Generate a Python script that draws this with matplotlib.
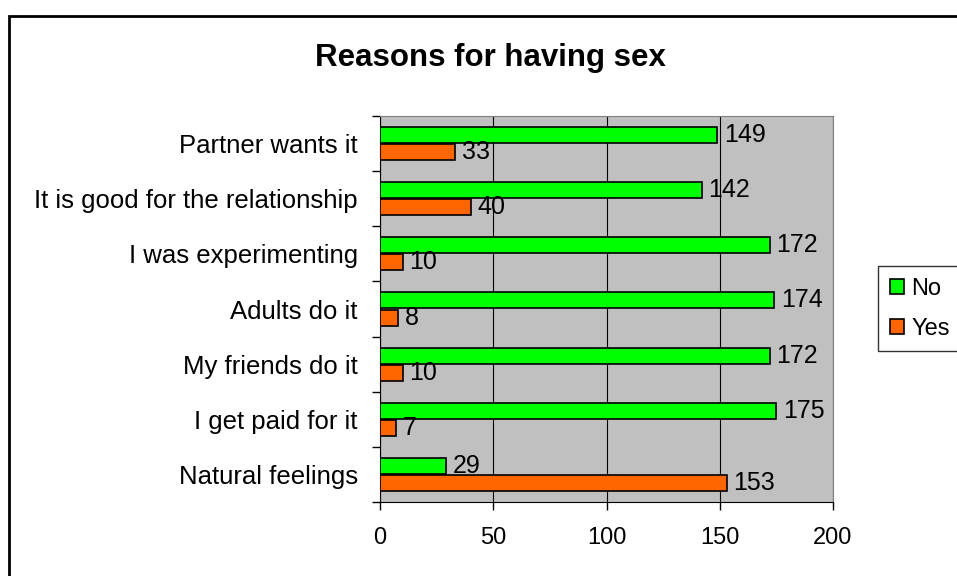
import matplotlib.pyplot as plt
from matplotlib.patches import Rectangle
import numpy as np

plt.rcParams['font.family'] = ['Liberation Sans', 'DejaVu Sans']

categories = ['Partner wants it', 'It is good for the relationship', 'I was experimenting',
              'Adults do it', 'My friends do it', 'I get paid for it', 'Natural feelings']
no_counts = [149, 142, 172, 174, 172, 175, 29]
yes_counts = [33, 40, 10, 8, 10, 7, 153]

GREEN = '#00FF00'
ORANGE = '#FF6600'

fig = plt.figure(figsize=(9.57, 5.76), dpi=100)
ax = fig.add_axes([380/957, 1 - 502/576, (833-380)/957, (502-116)/576])

y = np.arange(len(categories))
h = 0.29
bars_no = ax.barh(y - h/2 - 0.01, no_counts, height=h, color=GREEN, edgecolor='black', linewidth=1.2, label='No', zorder=3)
bars_yes = ax.barh(y + h/2 + 0.01, yes_counts, height=h, color=ORANGE, edgecolor='black', linewidth=1.2, label='Yes', zorder=3)

for bars, vals in ((bars_no, no_counts), (bars_yes, yes_counts)):
    for b, v in zip(bars, vals):
        ax.annotate(str(v), (v, b.get_y() + b.get_height()/2), xytext=(5, 0),
                    textcoords='offset points', va='center', ha='left', fontsize=18)

ax.set_ylim(len(categories) - 0.5, -0.5)
ax.set_xlim(0, 200)
ax.set_facecolor('#C0C0C0')
ax.set_xticks([0, 50, 100, 150, 200])
ax.tick_params(axis='x', labelsize=17, length=6, width=1, pad=12)
ax.set_yticks(y)
ax.set_yticklabels(categories, fontsize=18.5)
ax.tick_params(axis='y', length=0, pad=16)
ax.set_yticks(np.arange(-0.5, len(categories), 1), minor=True)
ax.tick_params(axis='y', which='minor', length=6, width=1)
ax.grid(axis='x', color='black', linewidth=0.8, zorder=0)
for side in ('top', 'right'):
    ax.spines[side].set_color('#808080')
for side in ('left', 'bottom'):
    ax.spines[side].set_color('black')

fig.text(490/957, 1 - 58/576, 'Reasons for having sex', ha='center', va='center',
         fontsize=22.5, fontweight='bold')

leg = fig.legend(handles=[bars_no, bars_yes], labels=['No', 'Yes'], loc='upper left',
                 bbox_to_anchor=(878/957, 1 - 266/576), borderaxespad=0, fontsize=17,
                 frameon=True, fancybox=False, edgecolor='black', handlelength=0.6,
                 handleheight=0.6, handletextpad=0.3, borderpad=0.5, labelspacing=0.75)
leg.get_frame().set_linewidth(1)

# outer chart border
fig.patches.append(Rectangle((9/957, -0.1), 1.2, 1.1 - 16/576, transform=fig.transFigure,
                             fill=False, edgecolor='black', linewidth=2))

fig.savefig('out.png', dpi=100, facecolor='white')
